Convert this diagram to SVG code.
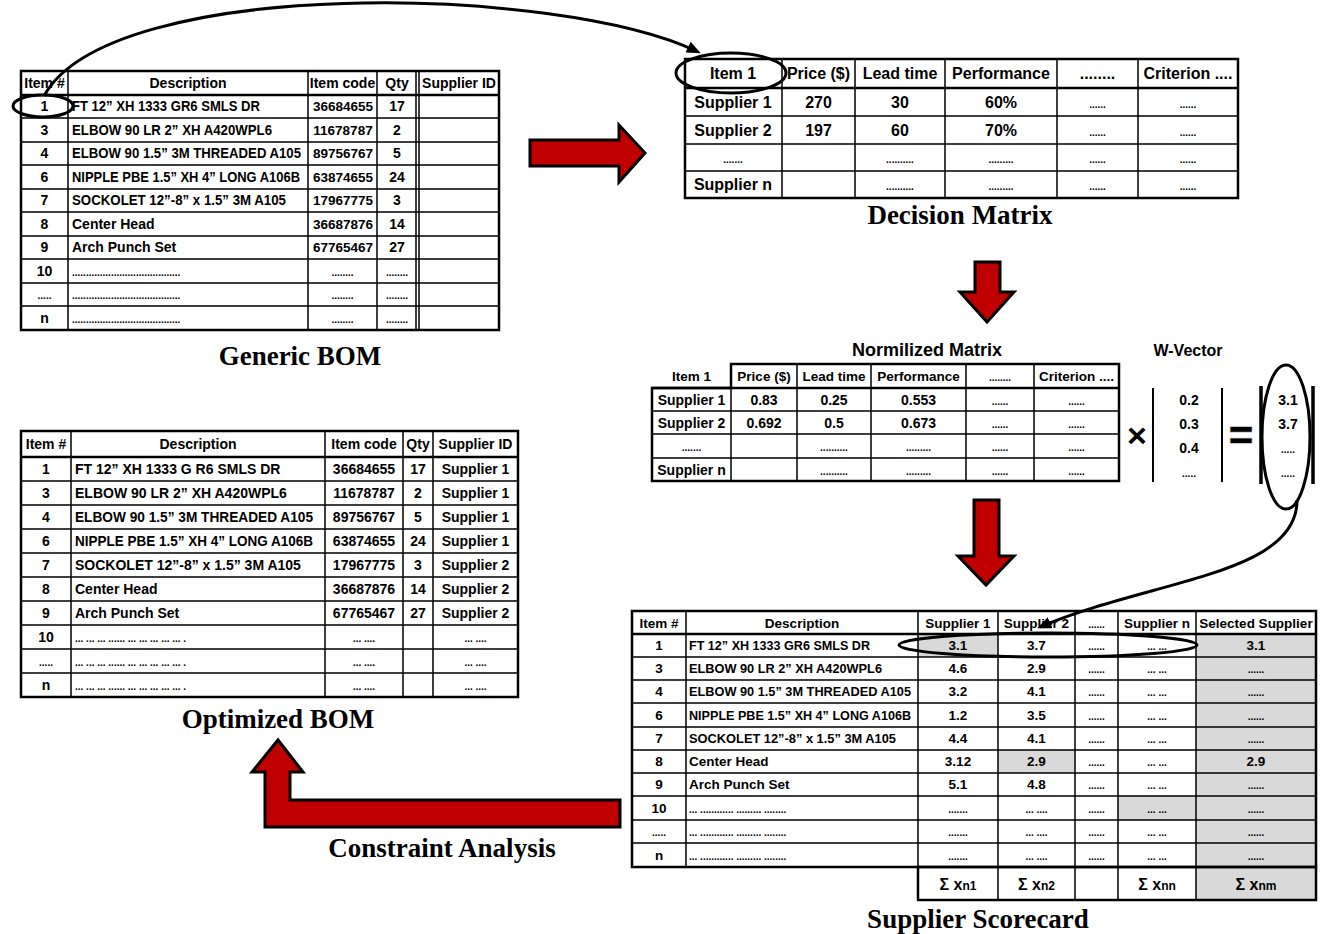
<svg xmlns="http://www.w3.org/2000/svg" width="1322" height="934" viewBox="0 0 1322 934">
<style>
text{font-family:"Liberation Sans",Arial,sans-serif;font-weight:700;fill:#000}
.c{text-anchor:middle}
.f13{font-size:13px}.f135{font-size:13.5px}.f14{font-size:14px}.f16{font-size:16px}.f18{font-size:18px}
.d{font-size:10px}
.title{font-family:"Liberation Serif","Times New Roman",serif;font-size:27px;text-anchor:middle}
.frame{fill:none;stroke:#000;stroke-width:2.5}
.grid{fill:none;stroke:#000;stroke-width:1.5}
.thick{fill:none;stroke:#000;stroke-width:2.5}
.shade{fill:#d9d9d9}
.ring{fill:none;stroke:#000;stroke-width:3}
.block{fill:#c00000;stroke:#000;stroke-width:3;stroke-linejoin:miter}
.curve{fill:none;stroke:#000;stroke-width:3;marker-end:url(#head)}
.bar{stroke:#000;stroke-width:2}
.barw{stroke:#000;stroke-width:3.5}
</style>
<defs>
<marker id="head" viewBox="0 0 14 12" refX="11" refY="6" markerWidth="14" markerHeight="12" markerUnits="userSpaceOnUse" orient="auto">
<path d="M0,0 L14,6 L0,12 Z" fill="#000"/>
</marker>
</defs>
<rect width="1322" height="934" fill="#fff"/>

<!-- Generic bill of materials -->
<g id="generic-bom">
<rect class="frame" x="21" y="71" width="478" height="259"/>
<path class="grid" d="M68 71V330M308 71V330M377 71V330M416 71V330M419 71V330M21 118H499M21 142H499M21 165H499M21 189H499M21 212H499M21 236H499M21 259H499M21 283H499M21 306H499"/>
<path class="thick" d="M21 95H499"/>
<g class="f14 c">
<text x="44.5" y="88">Item #</text><text x="188" y="88">Description</text><text x="342.5" y="88">Item code</text><text x="397" y="88">Qty</text><text x="459" y="88">Supplier ID</text>
</g>
<g class="f14 c">
<text x="44.5" y="111">1</text><text x="44.5" y="134.5">3</text><text x="44.5" y="158">4</text><text x="44.5" y="181.5">6</text><text x="44.5" y="205">7</text><text x="44.5" y="228.5">8</text><text x="44.5" y="252">9</text><text x="44.5" y="275.5">10</text><text x="44.5" y="322.5">n</text>
<text x="397" y="111">17</text><text x="397" y="134.5">2</text><text x="397" y="158">5</text><text x="397" y="181.5">24</text><text x="397" y="205">3</text><text x="397" y="228.5">14</text><text x="397" y="252">27</text>
</g>
<g class="f135 c">
<text x="343" y="111">36684655</text><text x="343" y="134.5">11678787</text><text x="343" y="158">89756767</text><text x="343" y="181.5">63874655</text><text x="343" y="205">17967775</text><text x="343" y="228.5">36687876</text><text x="343" y="252">67765467</text>
</g>
<g class="f14">
<text x="72" y="111" textLength="188" lengthAdjust="spacingAndGlyphs">FT 12” XH 1333 GR6 SMLS DR</text>
<text x="72" y="134.5" textLength="200" lengthAdjust="spacingAndGlyphs">ELBOW 90 LR 2” XH A420WPL6</text>
<text x="72" y="158" textLength="229" lengthAdjust="spacingAndGlyphs">ELBOW 90 1.5” 3M THREADED A105</text>
<text x="72" y="181.5" textLength="228" lengthAdjust="spacingAndGlyphs">NIPPLE PBE 1.5” XH 4” LONG A106B</text>
<text x="72" y="205" textLength="214" lengthAdjust="spacingAndGlyphs">SOCKOLET 12”-8” x 1.5” 3M A105</text>
<text x="72" y="228.5">Center Head</text>
<text x="72" y="252">Arch Punch Set</text>
</g>
<g class="d">
<text x="72" y="275.5">.......................................</text>
<text x="72" y="299">.......................................</text>
<text x="72" y="322.5">.......................................</text>
</g>
<g class="d c">
<text x="44.5" y="299">.....</text>
<text x="342.5" y="275.5">........</text><text x="342.5" y="299">........</text><text x="342.5" y="322.5">........</text>
<text x="397" y="275.5">........</text><text x="397" y="299">........</text><text x="397" y="322.5">........</text>
</g>
<text class="title" x="300" y="365">Generic BOM</text>
<ellipse class="ring" cx="43" cy="106" rx="30" ry="11"/>
</g>

<!-- Decision matrix for one item -->
<g id="decision-matrix">
<rect class="frame" x="685" y="59" width="553" height="139"/>
<path class="grid" d="M782 59V198M855 59V198M945 59V198M1057 59V198M1138 59V198M685 116H1238M685 144H1238M685 171H1238"/>
<path class="thick" d="M685 88H1238"/>
<g class="f16 c">
<text x="733" y="79">Item 1</text><text x="818.5" y="79">Price ($)</text><text x="900" y="79">Lead time</text><text x="1001" y="79">Performance</text><text x="1097.5" y="79">........</text><text x="1188" y="79">Criterion ....</text>
<text x="733" y="107.5">Supplier 1</text><text x="818.5" y="107.5">270</text><text x="900" y="107.5">30</text><text x="1001" y="107.5">60%</text>
<text x="733" y="135.5">Supplier 2</text><text x="818.5" y="135.5">197</text><text x="900" y="135.5">60</text><text x="1001" y="135.5">70%</text>
<text x="733" y="190">Supplier n</text>
</g>
<g class="d c">
<text x="1097.5" y="107.5">......</text><text x="1188" y="107.5">......</text>
<text x="1097.5" y="135.5">......</text><text x="1188" y="135.5">......</text>
<text x="733" y="163">.......</text><text x="900" y="163">..........</text><text x="1001" y="163">.........</text><text x="1097.5" y="163">......</text><text x="1188" y="163">......</text>
<text x="900" y="190">..........</text><text x="1001" y="190">.........</text><text x="1097.5" y="190">......</text><text x="1188" y="190">......</text>
</g>
<text class="title" x="960" y="224">Decision Matrix</text>
<ellipse class="ring" cx="731" cy="73" rx="55" ry="20"/>
</g>

<!-- Normalised matrix times weight vector -->
<g id="normalized-matrix">
<text class="f18 c" x="927" y="356">Normilized Matrix</text>
<path class="frame" d="M731 388V364H1119V481H652V388Z"/>
<path class="grid" d="M731 388V481M797 364V481M871 364V481M966 364V481M1034 364V481M652 411H1119M652 434H1119M652 458H1119"/>
<path class="thick" d="M652 388H1119"/>
<g class="f135 c">
<text x="691.5" y="381">Item 1</text><text x="764" y="381">Price ($)</text><text x="834" y="381">Lead time</text><text x="918.5" y="381">Performance</text><text x="1076.5" y="381">Criterion ....</text>
</g>
<g class="f14 c">
<text x="691.5" y="404.5">Supplier 1</text><text x="764" y="404.5">0.83</text><text x="834" y="404.5">0.25</text><text x="918.5" y="404.5">0.553</text>
<text x="691.5" y="427.5">Supplier 2</text><text x="764" y="427.5">0.692</text><text x="834" y="427.5">0.5</text><text x="918.5" y="427.5">0.673</text>
<text x="691.5" y="474.5">Supplier n</text>
</g>
<g class="d c">
<text x="1000" y="381">........</text>
<text x="1000" y="404.5">......</text><text x="1076.5" y="404.5">......</text>
<text x="1000" y="427.5">......</text><text x="1076.5" y="427.5">......</text>
<text x="691.5" y="451">.......</text><text x="834" y="451">..........</text><text x="918.5" y="451">.........</text><text x="1000" y="451">......</text><text x="1076.5" y="451">......</text>
<text x="834" y="474.5">..........</text><text x="918.5" y="474.5">.........</text><text x="1000" y="474.5">......</text><text x="1076.5" y="474.5">......</text>
</g>
</g>

<g id="times-sign"><text class="c" x="1137" y="447" font-size="34">×</text></g>

<g id="w-vector">
<text class="f16 c" x="1188" y="356">W-Vector</text>
<path class="bar" d="M1153 388V482M1222 388V482"/>
<g class="f14 c">
<text x="1189" y="405">0.2</text><text x="1189" y="429">0.3</text><text x="1189" y="453">0.4</text>
</g>
<text class="d c" x="1189" y="477">.....</text>
</g>

<g id="equals-sign"><text class="c" x="1241" y="450" font-size="42" fill="#222" stroke="#bbb" stroke-width="1.5" paint-order="stroke">=</text></g>

<g id="score-vector">
<path class="barw" d="M1261 386V484M1313 386V484"/>
<g class="f14 c">
<text x="1288" y="405">3.1</text><text x="1288" y="429">3.7</text>
</g>
<g class="d c"><text x="1288" y="453">.....</text><text x="1288" y="477">.....</text></g>
<ellipse class="ring" cx="1286" cy="437" rx="24" ry="72"/>
</g>

<!-- Supplier scorecard -->
<g id="supplier-scorecard">
<rect class="shade" x="918" y="634" width="80" height="23"/>
<rect class="shade" x="998" y="750" width="77" height="23"/>
<rect class="shade" x="1118" y="796" width="78" height="24"/>
<rect class="shade" x="1196" y="634" width="120" height="266"/>
<rect class="frame" x="632" y="611" width="684" height="256"/>
<rect class="frame" x="918" y="867" width="398" height="33"/>
<path class="grid" d="M686 611V867M918 611V867M998 611V900M1075 611V900M1118 611V900M1196 611V900M632 657H1316M632 680H1316M632 703H1316M632 727H1316M632 750H1316M632 773H1316M632 796H1316M632 820H1316M632 843H1316"/>
<path class="thick" d="M632 634H1316"/>
<g class="f135 c">
<text x="659" y="627.5">Item #</text><text x="802" y="627.5">Description</text><text x="958" y="627.5">Supplier 1</text><text x="1036.5" y="627.5">Supplier 2</text><text x="1157" y="627.5">Supplier n</text><text x="1256" y="627.5">Selected Supplier</text>
</g>
<text class="d c" x="1096.5" y="627.5">......</text>
<g class="f135 c">
<text x="659" y="650">1</text><text x="659" y="673">3</text><text x="659" y="696">4</text><text x="659" y="719.5">6</text><text x="659" y="743">7</text><text x="659" y="766">8</text><text x="659" y="789">9</text><text x="659" y="812.5">10</text><text x="659" y="859.5">n</text>
<text x="958" y="650">3.1</text><text x="958" y="673">4.6</text><text x="958" y="696">3.2</text><text x="958" y="719.5">1.2</text><text x="958" y="743">4.4</text><text x="958" y="766">3.12</text><text x="958" y="789">5.1</text>
<text x="1036.5" y="650">3.7</text><text x="1036.5" y="673">2.9</text><text x="1036.5" y="696">4.1</text><text x="1036.5" y="719.5">3.5</text><text x="1036.5" y="743">4.1</text><text x="1036.5" y="766">2.9</text><text x="1036.5" y="789">4.8</text>
<text x="1256" y="650">3.1</text><text x="1256" y="766">2.9</text>
</g>
<g class="f135">
<text x="689" y="650" textLength="181" lengthAdjust="spacingAndGlyphs">FT 12” XH 1333 GR6 SMLS DR</text>
<text x="689" y="673" textLength="193" lengthAdjust="spacingAndGlyphs">ELBOW 90 LR 2” XH A420WPL6</text>
<text x="689" y="696" textLength="222" lengthAdjust="spacingAndGlyphs">ELBOW 90 1.5” 3M THREADED A105</text>
<text x="689" y="719.5" textLength="222" lengthAdjust="spacingAndGlyphs">NIPPLE PBE 1.5” XH 4” LONG A106B</text>
<text x="689" y="743" textLength="207" lengthAdjust="spacingAndGlyphs">SOCKOLET 12”-8” x 1.5” 3M A105</text>
<text x="689" y="766">Center Head</text>
<text x="689" y="789">Arch Punch Set</text>
</g>
<g class="d">
<text x="689" y="812.5">... ............ ......... ........</text>
<text x="689" y="836">... ............ ......... ........</text>
<text x="689" y="859.5">... ............ ......... ........</text>
</g>
<g class="d c">
<text x="659" y="836">.....</text>
<text x="1096.5" y="650">......</text><text x="1096.5" y="673">......</text><text x="1096.5" y="696">......</text><text x="1096.5" y="719.5">......</text><text x="1096.5" y="743">......</text><text x="1096.5" y="766">......</text><text x="1096.5" y="789">......</text><text x="1096.5" y="812.5">......</text><text x="1096.5" y="836">......</text><text x="1096.5" y="859.5">......</text>
<text x="1157" y="650">... ...</text><text x="1157" y="673">... ...</text><text x="1157" y="696">... ...</text><text x="1157" y="719.5">... ...</text><text x="1157" y="743">... ...</text><text x="1157" y="766">... ...</text><text x="1157" y="789">... ...</text><text x="1157" y="812.5">... ...</text><text x="1157" y="836">... ...</text><text x="1157" y="859.5">... ...</text>
<text x="1256" y="673">......</text><text x="1256" y="696">......</text><text x="1256" y="719.5">......</text><text x="1256" y="743">......</text><text x="1256" y="789">......</text><text x="1256" y="812.5">......</text><text x="1256" y="836">......</text><text x="1256" y="859.5">......</text>
<text x="958" y="812.5">.......</text><text x="958" y="836">.......</text><text x="958" y="859.5">.......</text>
<text x="1036.5" y="812.5">... ....</text><text x="1036.5" y="836">... ....</text><text x="1036.5" y="859.5">... ....</text>
</g>
<g class="c">
<text x="958" y="890" font-size="16">Σ x<tspan font-size="12">n1</tspan></text>
<text x="1036.5" y="890" font-size="16">Σ x<tspan font-size="12">n2</tspan></text>
<text x="1157" y="890" font-size="16">Σ x<tspan font-size="12">nn</tspan></text>
<text x="1256" y="890" font-size="16">Σ x<tspan font-size="12">nm</tspan></text>
</g>
<text class="title" x="978" y="928">Supplier Scorecard</text>
<ellipse class="ring" cx="1048" cy="645" rx="149" ry="12"/>
</g>

<!-- Optimised bill of materials -->
<g id="optimized-bom">
<rect class="frame" x="21" y="431" width="497" height="266"/>
<path class="grid" d="M71 431V697M325 431V697M403 431V697M433 431V697M21 481H518M21 505H518M21 529H518M21 553H518M21 577H518M21 601H518M21 625H518M21 649H518M21 673H518"/>
<path class="thick" d="M21 457H518"/>
<g class="f14 c">
<text x="46" y="449">Item #</text><text x="198" y="449">Description</text><text x="364" y="449">Item code</text><text x="418" y="449">Qty</text><text x="475.5" y="449">Supplier ID</text>
</g>
<g class="f14 c">
<text x="46" y="474">1</text><text x="46" y="498">3</text><text x="46" y="522">4</text><text x="46" y="546">6</text><text x="46" y="570">7</text><text x="46" y="594">8</text><text x="46" y="618">9</text><text x="46" y="642">10</text><text x="46" y="690">n</text>
<text x="364" y="474">36684655</text><text x="364" y="498">11678787</text><text x="364" y="522">89756767</text><text x="364" y="546">63874655</text><text x="364" y="570">17967775</text><text x="364" y="594">36687876</text><text x="364" y="618">67765467</text>
<text x="418" y="474">17</text><text x="418" y="498">2</text><text x="418" y="522">5</text><text x="418" y="546">24</text><text x="418" y="570">3</text><text x="418" y="594">14</text><text x="418" y="618">27</text>
<text x="475.5" y="474">Supplier 1</text><text x="475.5" y="498">Supplier 1</text><text x="475.5" y="522">Supplier 1</text><text x="475.5" y="546">Supplier 1</text><text x="475.5" y="570">Supplier 2</text><text x="475.5" y="594">Supplier 2</text><text x="475.5" y="618">Supplier 2</text>
</g>
<g class="f14">
<text x="75" y="474">FT 12” XH 1333 G R6 SMLS DR</text>
<text x="75" y="498">ELBOW 90 LR 2” XH A420WPL6</text>
<text x="75" y="522" textLength="238" lengthAdjust="spacingAndGlyphs">ELBOW 90 1.5” 3M THREADED A105</text>
<text x="75" y="546" textLength="238" lengthAdjust="spacingAndGlyphs">NIPPLE PBE 1.5” XH 4” LONG A106B</text>
<text x="75" y="570">SOCKOLET 12”-8” x 1.5” 3M A105</text>
<text x="75" y="594">Center Head</text>
<text x="75" y="618">Arch Punch Set</text>
</g>
<g class="d">
<text x="75" y="642">... ... ... ...... ... ... ... ... ... .</text>
<text x="75" y="666">... ... ... ...... ... ... ... ... ... .</text>
<text x="75" y="690">... ... ... ...... ... ... ... ... ... .</text>
</g>
<g class="d c">
<text x="46" y="666">.....</text>
<text x="364" y="642">... ....</text><text x="364" y="666">... ....</text><text x="364" y="690">... ....</text>
<text x="475.5" y="642">... ....</text><text x="475.5" y="666">... ....</text><text x="475.5" y="690">... ....</text>
</g>
<text class="title" x="278" y="728">Optimized BOM</text>
</g>

<!-- Flow arrows between the stages -->
<g id="connectors">
<path class="curve" d="M44 96C110 -25 560 -15 698 52"/>
<path class="curve" d="M1297 500C1298 575 1150 580 1040 627"/>
<polygon class="block" points="530,140 619,140 619,125 645,153 619,182 619,166 530,166"/>
<polygon class="block" points="975,262 1000,262 1000,292 1014,292 987,322 960,292 975,292"/>
<polygon class="block" points="974,500 999,500 999,556 1014,556 986,585 958,556 974,556"/>
<polygon class="block" points="620,800 290,800 290,772 303,772 278,740 252,772 265,772 265,827 620,827"/>
<text class="title" x="442" y="857">Constraint Analysis</text>
</g>
</svg>
